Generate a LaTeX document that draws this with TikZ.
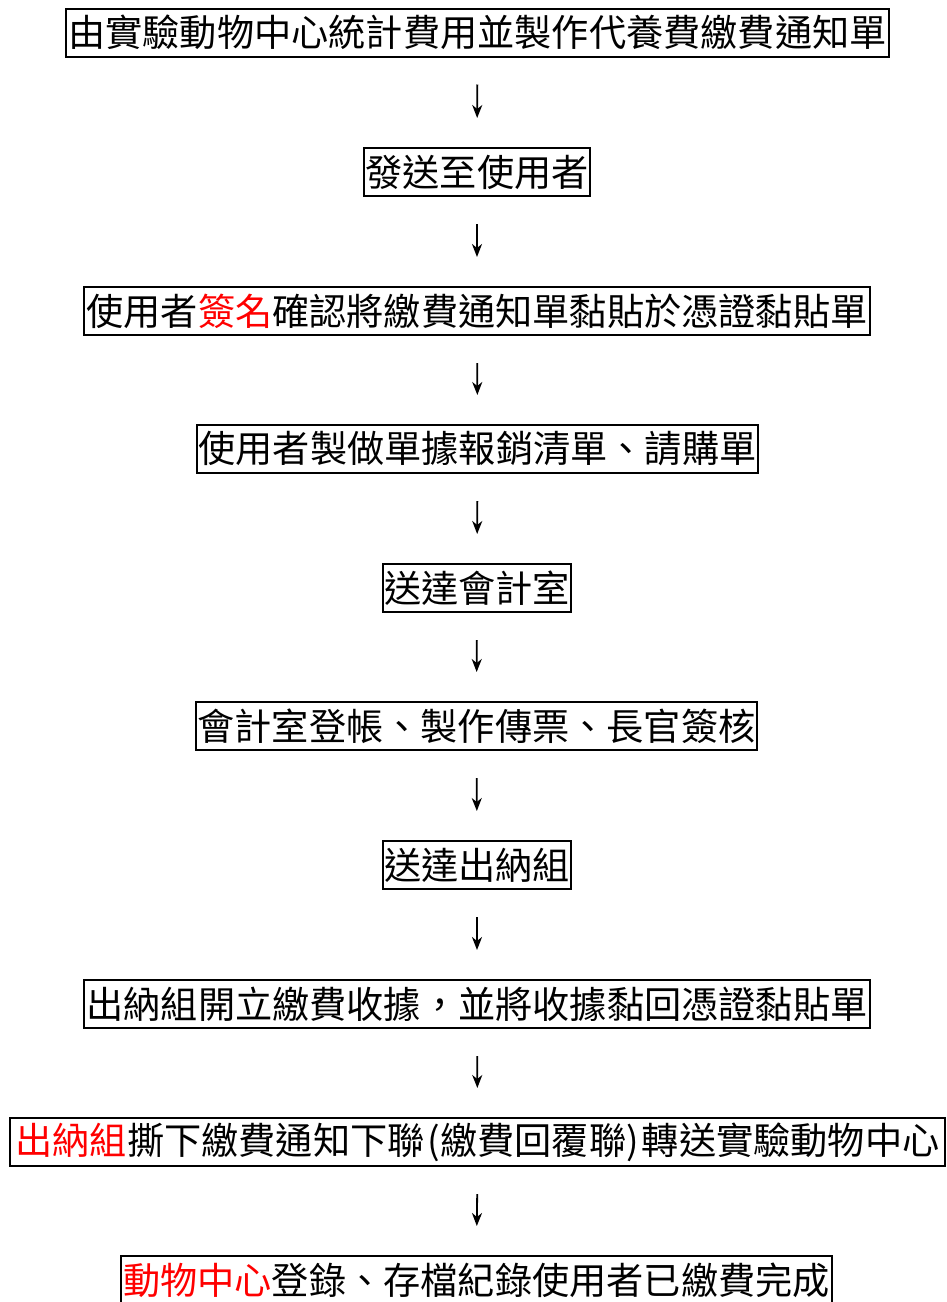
\documentclass[tikz,border=0pt]{standalone}
\usepackage{fontspec}
\newfontfamily\cjk{Noto Sans CJK TC}
\usetikzlibrary{arrows.meta}
\tikzset{
  flowbox/.style={draw, line width=2pt, minimum height=48pt, inner sep=0pt, font=\cjk\fontsize{37.2}{40}\selectfont, anchor=center},
  flowarrow/.style={line width=1.8pt, -{Stealth[length=13pt,width=10pt,inset=4pt]}, shorten <=27pt, shorten >=29pt},
}
\begin{document}
\begin{tikzpicture}[x=1pt,y=-1pt]
\useasboundingbox (0,0) rectangle (947,1302);
\node[flowbox, minimum width=823pt] (n1) at (477.5,32.5) {由實驗動物中心統計費用並製作代養費繳費通知單};
\node[flowbox, minimum width=226pt] (n2) at (477,172) {發送至使用者};
\node[flowbox, minimum width=786pt] (n3) at (477,311) {使用者\textcolor{red}{簽名}確認將繳費通知單黏貼於憑證黏貼單};
\node[flowbox, minimum width=561pt] (n4) at (477.5,449) {使用者製做單據報銷清單、請購單};
\node[flowbox, minimum width=188pt] (n5) at (477,588) {送達會計室};
\node[flowbox, minimum width=561pt] (n6) at (476.5,726) {會計室登帳、製作傳票、長官簽核};
\node[flowbox, minimum width=188pt] (n7) at (477,865) {送達出納組};
\node[flowbox, minimum width=786pt] (n8) at (477,1004) {出納組開立繳費收據，並將收據黏回憑證黏貼單};
\node[flowbox, minimum width=935pt] (n9) at (477.5,1142) {\textcolor{red}{出納組}撕下繳費通知下聯\kern3pt(繳費回覆聯)\kern3pt轉送實驗動物中心};
\node[flowbox, minimum width=711pt] (n10) at (476.5,1280) {\textcolor{red}{動物中心}登錄、存檔紀錄使用者已繳費完成};
\foreach \a/\b in {n1/n2,n2/n3,n3/n4,n4/n5,n5/n6,n6/n7,n7/n8,n8/n9,n9/n10}
  \draw[flowarrow] (\a.south) -- (\b.north);
\end{tikzpicture}
\end{document}
